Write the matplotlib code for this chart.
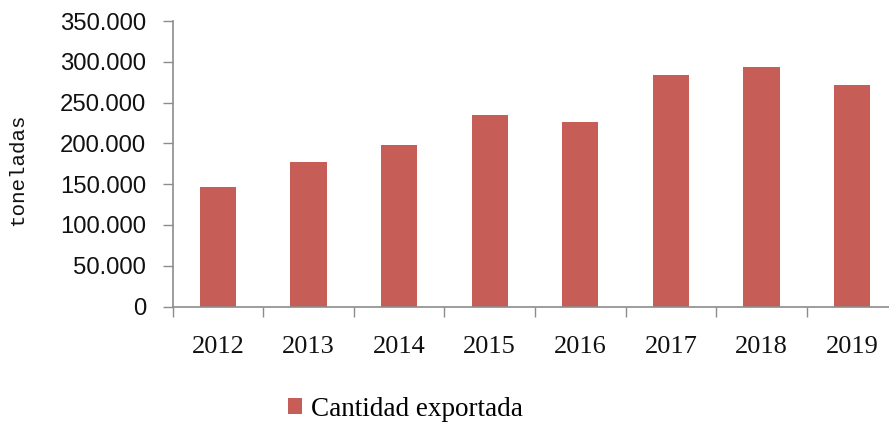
import matplotlib
matplotlib.use("Agg")
import matplotlib.pyplot as plt
import numpy as np
from matplotlib.patches import Patch

years = ["2012", "2013", "2014", "2015", "2016", "2017", "2018", "2019"]
cantidad = [146000, 177000, 198000, 235000, 226000, 284000, 293000, 271000]
yticks = [0, 50000, 100000, 150000, 200000, 250000, 300000, 350000]
ytick_labels = ["0", "50.000", "100.000", "150.000", "200.000", "250.000", "300.000", "350.000"]

bar_color = "#C65D57"
axis_color = "#8C8C8C"

fig = plt.figure(figsize=(8.89, 4.22), dpi=100)
ax = fig.add_axes([172.6/889, (422-306.5)/422, 724.8/889, 285.5/422])

x = np.arange(len(years))
ax.bar(x, cantidad, width=0.4, color=bar_color, zorder=2)

ax.set_xlim(-0.5, len(years) - 0.5)
ax.set_ylim(0, 350000)

ax.set_yticks(yticks)
ax.set_yticklabels(ytick_labels, family="Liberation Sans", fontsize=17.2, color="#111111")
ax.tick_params(axis="y", direction="out", length=7, width=1, color=axis_color, pad=12)

ax.set_xticks(np.arange(len(years) + 1) - 0.5)
ax.set_xticklabels([])
ax.tick_params(axis="x", which="major", direction="out", length=7, width=1, color=axis_color)
ax.set_xticks(x, minor=True)
ax.set_xticklabels(years, minor=True, family="Liberation Serif", fontsize=19, color="#111111")
ax.tick_params(axis="x", which="minor", length=0, pad=21)

for s in ["top", "right"]:
    ax.spines[s].set_visible(False)
for s in ["left", "bottom"]:
    ax.spines[s].set_color(axis_color)
    ax.spines[s].set_linewidth(1.2)

fig.text(18/889, 1 - 170/422, "toneladas", rotation=90, ha="center", va="center",
         family="Liberation Mono", fontsize=15, color="#111111")

handle = Patch(facecolor=bar_color, edgecolor="none")
fig.legend([handle], ["Cantidad exportada"], loc="center", bbox_to_anchor=(405/889, 1 - 409/422),
           frameon=False, prop={"family": "Liberation Serif", "size": 19.5},
           handlelength=0.55, handleheight=0.55, handletextpad=0.3)

fig.savefig("out.png", dpi=100)
